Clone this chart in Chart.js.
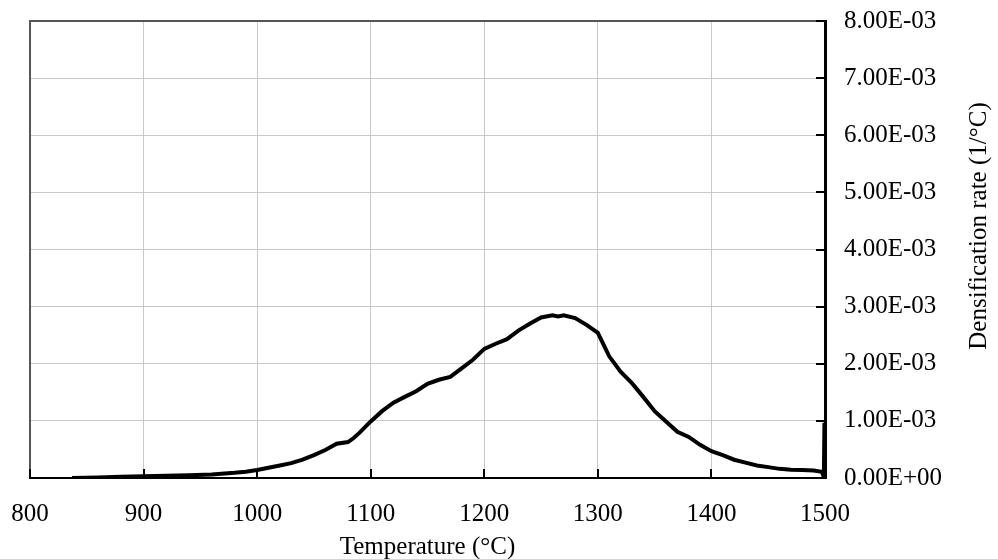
<!DOCTYPE html>
<html>
<head>
<meta charset="utf-8">
<script src="https://cdn.jsdelivr.net/npm/chart.js@4"></script>
<style>
  body { margin: 0; background: #fff; }
  #wrap { width: 998px; height: 559px; }
</style>
</head>
<body>
<div id="wrap"><canvas id="rateChart" width="998" height="559"></canvas></div>
<script>
// temperature (°C) and densification rate (1/°C)
const temps = [837, 860, 880, 900, 920, 940, 960, 980, 990, 1000, 1010, 1020, 1030, 1040, 1050,
  1060, 1070, 1080, 1085, 1090, 1100, 1110, 1120, 1130, 1140, 1150, 1160, 1170, 1180, 1190,
  1200, 1210, 1220, 1230, 1240, 1250, 1260, 1265, 1270, 1280, 1290, 1300, 1310, 1320, 1330,
  1340, 1350, 1360, 1370, 1380, 1390, 1400, 1410, 1420, 1430, 1440, 1450, 1460, 1470, 1480,
  1490, 1497, 1499, 1499.5, 1500];
const rates = [0, 0.00001, 0.00002, 0.00003, 0.00004, 0.00005, 0.00006, 0.00009, 0.00011, 0.00014,
  0.00018, 0.00022, 0.00026, 0.00032, 0.0004, 0.00049, 0.0006, 0.00063, 0.0007, 0.00079,
  0.00099, 0.00117, 0.00132, 0.00142, 0.00152, 0.00165, 0.00172, 0.00177, 0.00192, 0.00207,
  0.00226, 0.00235, 0.00243, 0.00258, 0.0027, 0.00281, 0.00285, 0.00283, 0.00285, 0.0028,
  0.00268, 0.00254, 0.00213, 0.00186, 0.00166, 0.00142, 0.00117, 0.00099, 0.00081, 0.00072,
  0.00058, 0.00047, 0.0004, 0.00032, 0.00027, 0.00022, 0.00019, 0.00016, 0.000145, 0.00014,
  0.00013, 0.00011, 0.00002, 0.00093, 0.00093];

const xTitle = "Temperature (°C)";
const yTitle = "Densification rate (1/°C)";
const FONT = "'Liberation Serif', 'Times New Roman', serif";

function sciLabel(v) {
  // Excel style: 3.00E-03
  const parts = Number(v).toExponential(2).split("e");
  const exp = parseInt(parts[1], 10);
  const sign = exp < 0 ? "-" : "+";
  return parts[0] + "E" + sign + String(Math.abs(exp)).padStart(2, "0");
}

// borders on the left/top, inward tick marks, and the two axis titles
const framePlugin = {
  id: "frame",
  beforeDatasetsDraw(chart) {
    const ctx = chart.ctx;
    const a = chart.chartArea;
    const xs = chart.scales.x, ys = chart.scales.y;
    ctx.save();
    ctx.strokeStyle = "#555";
    ctx.lineWidth = 2;
    ctx.beginPath();
    ctx.moveTo(a.left, a.bottom);
    ctx.lineTo(a.left, a.top);
    ctx.lineTo(a.right, a.top);
    ctx.stroke();

    ctx.strokeStyle = "#000";
    ctx.lineWidth = 2;
    ctx.beginPath();
    xs.ticks.forEach(t => {
      const px = Math.round(xs.getPixelForValue(t.value));
      ctx.moveTo(px, a.bottom);
      ctx.lineTo(px, a.bottom - 9);
    });
    ys.ticks.forEach(t => {
      const py = Math.round(ys.getPixelForValue(t.value));
      ctx.moveTo(a.right, py);
      ctx.lineTo(a.right - 9, py);
    });
    ctx.stroke();
    ctx.restore();
  },
  afterDraw(chart) {
    const ctx = chart.ctx;
    const a = chart.chartArea;
    ctx.save();
    ctx.fillStyle = "#000";
    ctx.font = "25px " + FONT;
    ctx.textAlign = "center";
    ctx.textBaseline = "alphabetic";
    ctx.fillText(xTitle, (a.left + a.right) / 2, 554);

    ctx.translate(986, 226);
    ctx.rotate(-Math.PI / 2);
    ctx.fillText(yTitle, 0, 0);
    ctx.restore();
  }
};

new Chart(document.getElementById("rateChart"), {
  type: "line",
  data: {
    labels: temps,
    datasets: [{
      data: temps.map((t, i) => ({ x: t, y: rates[i] })),
      borderColor: "#000",
      borderWidth: 4,
      pointRadius: 0,
      tension: 0,
      fill: false
    }]
  },
  options: {
    responsive: false,
    animation: false,
    layout: { padding: { left: 30, top: 21, right: 0, bottom: 0 } },
    plugins: {
      legend: { display: false },
      tooltip: { enabled: false }
    },
    scales: {
      x: {
        type: "linear",
        min: 800,
        max: 1500,
        ticks: {
          stepSize: 100,
          color: "#000",
          font: { family: FONT, size: 25 },
          padding: 21,
          maxRotation: 0,
          callback: v => String(v)
        },
        grid: { color: "#c8c8c8", lineWidth: 1, drawTicks: false },
        border: { color: "#000", width: 2 },
        afterFit: s => {
          s.height = 81;
          s.paddingLeft = 0;
          s.paddingRight = 0;
        }
      },
      y: {
        position: "right",
        min: 0,
        max: 0.008,
        ticks: {
          stepSize: 0.001,
          color: "#000",
          font: { family: FONT, size: 25 },
          padding: 19,
          callback: v => sciLabel(v)
        },
        grid: { color: "#c8c8c8", lineWidth: 1, drawTicks: false },
        border: { color: "#000", width: 3 },
        afterFit: s => {
          s.width = 173;
          s.paddingTop = 0;
          s.paddingBottom = 0;
        }
      }
    }
  },
  plugins: [framePlugin]
});
</script>
</body>
</html>
